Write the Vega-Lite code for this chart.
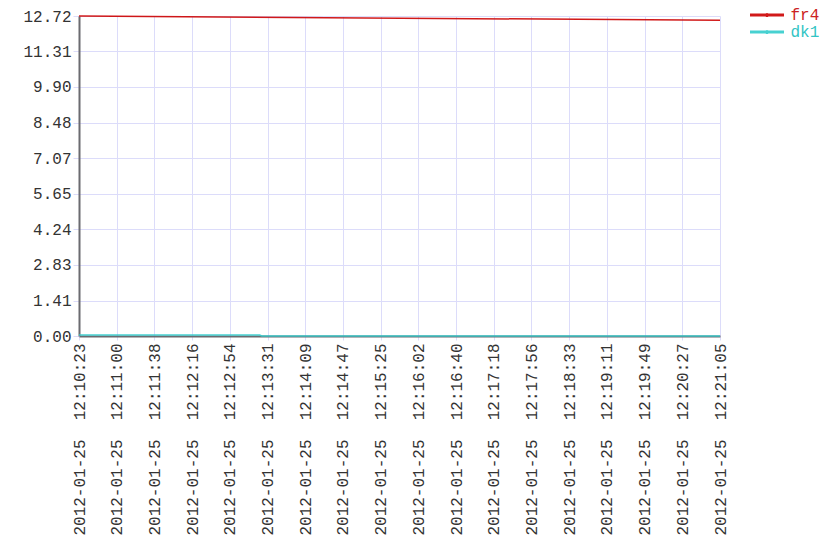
{
  "$schema": "https://vega.github.io/schema/vega-lite/v6.json",
  "autosize": "none",
  "width": 641,
  "height": 320,
  "padding": {"left": 79, "top": 16, "right": 120, "bottom": 224},
  "background": "white",
  "config": {"view": {"stroke": null}},
  "data": {
    "values": [
      {"series": "fr4", "t": "2012-01-25T12:10:23Z", "v": 12.72},
      {"series": "fr4", "t": "2012-01-25T12:21:05Z", "v": 12.55},
      {"series": "dk1", "t": "2012-01-25T12:10:23Z", "v": 0.04},
      {"series": "dk1", "t": "2012-01-25T12:13:24Z", "v": 0.04},
      {"series": "dk1", "t": "2012-01-25T12:13:26Z", "v": 0},
      {"series": "dk1", "t": "2012-01-25T12:21:05Z", "v": 0}
    ]
  },
  "encoding": {
    "x": {
      "field": "t", "type": "temporal",
      "scale": {"type": "utc", "nice": false},
      "axis": {
        "title": null,
        "values": [1327493423000, 1327493460765, 1327493498529, 1327493536294, 1327493574059, 1327493611824, 1327493649588, 1327493687353, 1327493725118, 1327493762882, 1327493800647, 1327493838412, 1327493876176, 1327493913941, 1327493951706, 1327493989471, 1327494027235, 1327494065000],
        "labelExpr": "utcFormat(datum.value, '%Y-%m-%d\u00a0\u00a0%H:%M:%S')",
        "labelAngle": -90,
        "labelFont": "Liberation Mono",
        "labelFontSize": 16,
        "labelColor": "#333333",
        "labelPadding": 3,
        "labelLimit": 0,
        "labelOverlap": false,
        "labelFlush": false,
        "domainColor": "#6b6b70",
        "domainWidth": 2,
        "gridColor": "#dcdcfa",
        "gridWidth": 1,
        "tickColor": "#dcdcfa",
        "tickSize": 4
      }
    },
    "y": {
      "field": "v", "type": "quantitative",
      "scale": {"domain": [0, 12.72], "nice": false, "zero": false},
      "axis": {
        "title": null,
        "values": [0, 1.41, 2.83, 4.24, 5.65, 7.07, 8.48, 9.90, 11.31, 12.72],
        "format": ".2f",
        "labelFont": "Liberation Mono",
        "labelFontSize": 16,
        "labelColor": "#333333",
        "labelPadding": 2,
        "domainColor": "#6b6b70",
        "domainWidth": 2,
        "gridColor": "#dcdcfa",
        "gridWidth": 1,
        "tickColor": "#dcdcfa",
        "tickSize": 6
      }
    },
    "color": {
      "field": "series", "type": "nominal",
      "scale": {"domain": ["fr4", "dk1"], "range": ["#cc0000", "#33cccc"]}
    }
  },
  "layer": [
    {
      "mark": {"type": "line", "strokeWidth": 1.5, "opacity": 0.9},
      "encoding": {
        "color": {
          "field": "series", "type": "nominal",
          "scale": {"domain": ["fr4", "dk1"], "range": ["#cc0000", "#33cccc"]},
          "legend": {
            "title": null,
            "orient": "none",
            "legendX": 679.5,
            "legendY": -9.5,
            "padding": 0,
            "symbolType": "M-2,-0.18H2V0.18H-2ZM0.24,0A0.24,0.24,0,1,1,-0.24,0A0.24,0.24,0,1,1,0.24,0Z",
            "symbolSize": 289,
            "symbolStrokeWidth": 0,
            "labelFont": "Liberation Mono",
            "labelFontSize": 16,
            "labelOffset": 15,
            "labelColor": {"expr": "datum.value === 'fr4' ? '#cc2222' : '#33c4c4'"},
            "rowPadding": 0,
            "encode": {
              "symbols": {"update": {"fill": {"signal": "datum.value === 'fr4' ? '#dd5555' : '#44d4d4'"}, "fillOpacity": {"value": 1}, "strokeWidth": {"value": 0}}},
              "labels": {"update": {"fill": {"signal": "datum.value === 'fr4' ? '#cc2222' : '#33c4c4'"}}}
            }
          }
        }
      }
    },
    {
      "transform": [{"filter": "datum.t == '2012-01-25T12:10:23Z' || datum.t == '2012-01-25T12:21:05Z'"}],
      "mark": {"type": "point", "filled": true, "size": 20, "opacity": 1},
      "encoding": {
        "color": {"field": "series", "type": "nominal", "legend": null}
      }
    }
  ]
}
